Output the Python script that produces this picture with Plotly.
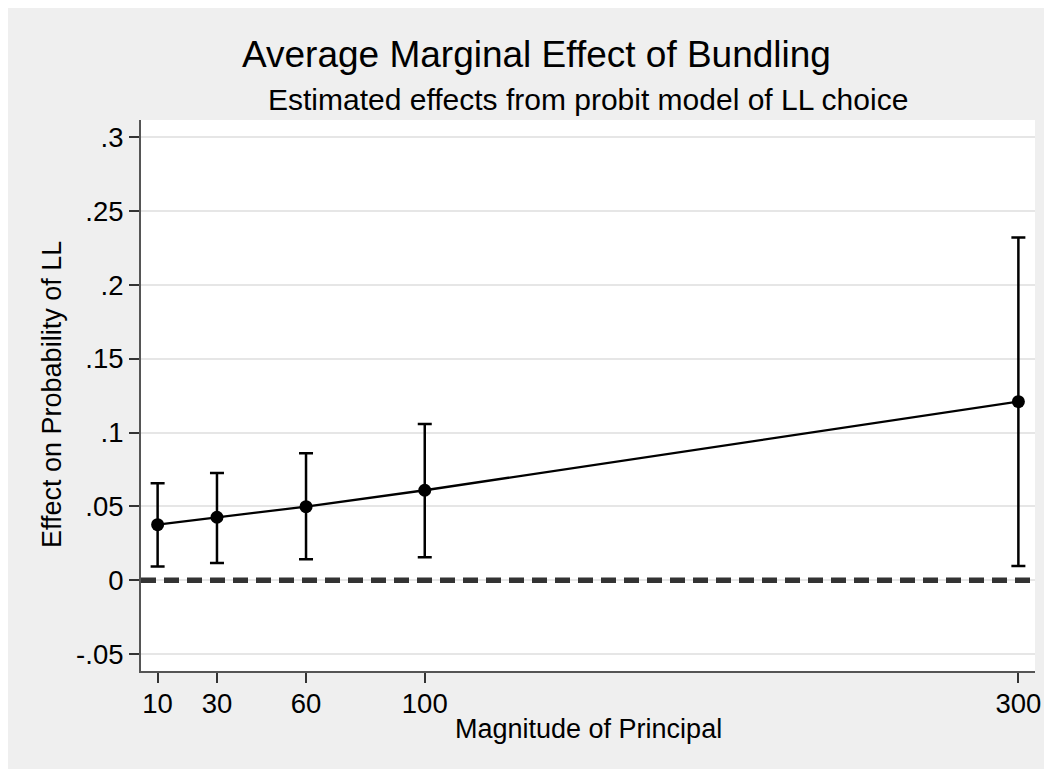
import plotly.graph_objects as go

# ---- data ----
principal = [10, 30, 60, 100, 300]
effect = [0.0377, 0.0427, 0.0499, 0.061, 0.121]
ci_upper = [0.0657, 0.0727, 0.086, 0.1059, 0.2322]
ci_lower = [0.0093, 0.0117, 0.0142, 0.0156, 0.0097]

x_ticks = [10, 30, 60, 100, 300]
y_tickvals = [-0.05, 0, 0.05, 0.1, 0.15, 0.2, 0.25, 0.3]
y_ticktext = ["-.05", "0", ".05", ".1", ".15", ".2", ".25", ".3"]

title_text = "Average Marginal Effect of Bundling"
subtitle_text = "Estimated effects from probit model of LL choice"
x_title = "Magnitude of Principal"
y_title = "Effect on Probability of LL"

# ---- layout geometry (pixels, figure coordinates) ----
W, H = 1052, 769
OFF = 8  # page body margin
L, T = 141 - OFF, 120 - OFF
R = W - (1035 - OFF)
B = H - (671 - OFF)
PW, PH = W - L - R, H - T - B

def px_x(p):  # screen px -> paper
    return (p - OFF - L) / PW

def px_y(p):
    return (H - B - (p - OFF)) / PH

FONT = "Liberation Sans, Arial, Helvetica, sans-serif"
BG = "#efefef"

err_plus = [u - e for u, e in zip(ci_upper, effect)]
err_minus = [e - l for e, l in zip(effect, ci_lower)]

fig = go.Figure()
fig.add_trace(go.Scatter(
    x=principal, y=effect, mode="lines+markers",
    line=dict(color="black", width=2.3),
    marker=dict(color="black", size=13),
    error_y=dict(type="data", symmetric=False, array=err_plus, arrayminus=err_minus,
                 color="black", thickness=2.5, width=7),
    showlegend=False,
))

shapes = [
    dict(type="line", xref="x domain", yref="y", x0=0, x1=1, y0=0, y1=0,
         line=dict(color="#333333", width=5.5, dash="15px,8px")),
]

annotations = [
    dict(text=title_text, xref="paper", yref="paper", x=px_x(536), y=px_y(55),
         xanchor="center", yanchor="middle", showarrow=False,
         font=dict(family=FONT, size=37, color="black")),
    dict(text=subtitle_text, xref="paper", yref="paper", x=px_x(588), y=px_y(99.5),
         xanchor="center", yanchor="middle", showarrow=False,
         font=dict(family=FONT, size=30, color="black")),
    dict(text=x_title, xref="paper", yref="paper", x=px_x(588), y=px_y(729),
         xanchor="center", yanchor="middle", showarrow=False,
         font=dict(family=FONT, size=27, color="black")),
    dict(text=y_title, xref="paper", yref="paper", x=px_x(52), y=px_y(395),
         xanchor="center", yanchor="middle", showarrow=False, textangle=-90,
         font=dict(family=FONT, size=27, color="black")),
]

fig.update_layout(
    width=W, height=H,
    margin=dict(l=L, r=R, t=T, b=B, pad=0),
    paper_bgcolor=BG, plot_bgcolor="white",
    font=dict(family=FONT, size=27, color="black"),
    shapes=shapes, annotations=annotations,
    xaxis=dict(range=[4.4, 305.6], tickvals=x_ticks, ticks="outside", ticklen=10,
               tickwidth=1.5, tickcolor="#333333", showgrid=False, zeroline=False,
               showline=True, linecolor="#555555", linewidth=2,
               ticklabelstandoff=-3,
               tickfont=dict(family=FONT, size=27.5, color="black")),
    yaxis=dict(range=[-0.0614, 0.3117], tickvals=y_tickvals, ticktext=y_ticktext,
               ticks="outside", ticklen=10, tickwidth=1.5, tickcolor="#333333",
               showgrid=True, gridcolor="#e6e6e6", gridwidth=2, zeroline=False,
               showline=True, linecolor="#555555", linewidth=2,
               tickfont=dict(family=FONT, size=27.5, color="black")),
)

fig.write_html("out.html")
